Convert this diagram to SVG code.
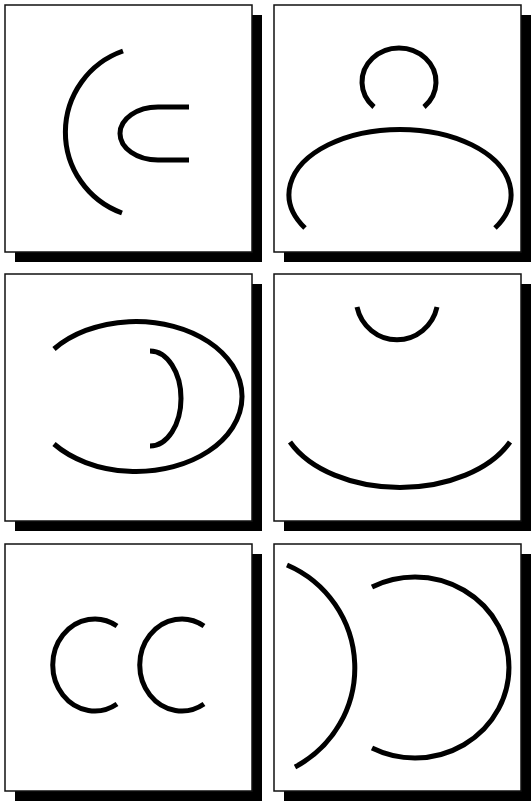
<svg xmlns="http://www.w3.org/2000/svg" width="532" height="804" viewBox="0 0 532 804">
<style>
.shadow{fill:#000}
.panel{fill:#fff;stroke:#111;stroke-width:1.5}
.curve{fill:none;stroke:#000;stroke-width:5;stroke-linecap:butt}
</style>
<rect width="532" height="804" fill="#fff"/>
<g id="panel1">
<rect class="shadow" x="15" y="15" width="247" height="247"/>
<rect class="panel" x="5" y="5" width="247" height="247"/>
<path class="curve" d="M123,51 A86,86 0 0 0 122,213"/>
<path class="curve" d="M189,107 H158 A38,26.5 0 0 0 158,160 H189"/>
</g>
<g id="panel2">
<rect class="shadow" x="284" y="15" width="247" height="247"/>
<rect class="panel" x="274" y="5" width="247" height="247"/>
<path class="curve" d="M374,107 A37,34 0 1 1 424,107"/>
<path class="curve" d="M305,228 A111,65 0 1 1 495,228"/>
</g>
<g id="panel3">
<rect class="shadow" x="15" y="284" width="247" height="247"/>
<rect class="panel" x="5" y="274" width="247" height="247"/>
<path class="curve" d="M54,349 A106,75 0 1 1 54,444"/>
<path class="curve" d="M150,351 A31,47.5 0 0 1 150,446"/>
</g>
<g id="panel4">
<rect class="shadow" x="284" y="284" width="247" height="247"/>
<rect class="panel" x="274" y="274" width="247" height="247"/>
<path class="curve" d="M357,307 A41,42 0 0 0 437,307"/>
<path class="curve" d="M290,442 A121,78 0 0 0 510,442"/>
</g>
<g id="panel5">
<rect class="shadow" x="15" y="554" width="247" height="247"/>
<rect class="panel" x="5" y="544" width="247" height="247"/>
<path class="curve" d="M117,626 A42,46 0 1 0 117,704"/>
<path class="curve" d="M204,626 A42,46 0 1 0 204,704"/>
</g>
<g id="panel6">
<rect class="shadow" x="284" y="554" width="247" height="247"/>
<rect class="panel" x="274" y="544" width="247" height="247"/>
<path class="curve" d="M287,565 A112,112 0 0 1 295,767"/>
<path class="curve" d="M372,587 A94,90.5 0 1 1 372,748"/>
</g>
</svg>
